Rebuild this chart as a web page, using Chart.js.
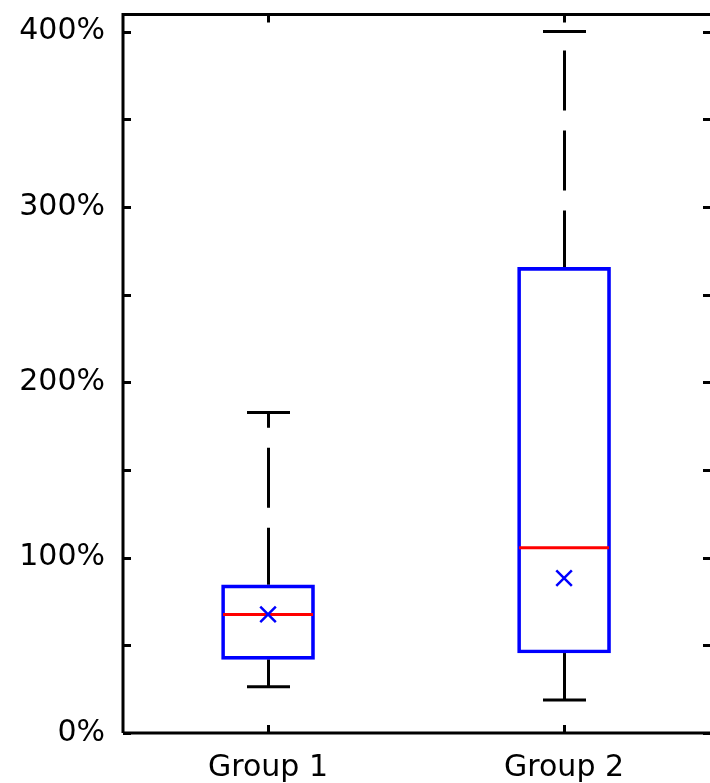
<!DOCTYPE html>
<html><head><meta charset="utf-8">
<script src="https://cdn.jsdelivr.net/npm/chart.js@4/dist/chart.umd.min.js"></script>
<style>html,body{margin:0;padding:0;background:#fff;overflow:hidden;} #wrap{width:710px;height:783px;}</style>
</head><body><div id="wrap"><canvas id="c" width="710" height="783"></canvas></div>
<script>
// ---- data ----
const categories = ['Group 1', 'Group 2'];
const positions = [1, 2];
const whiskerLow = [26.4, 18.8];
const q1 = [42, 45.6];
const median = [67.6, 105.6];
const q3 = [84.5, 265.5];
const whiskerHigh = [182.7, 400];
const mean = [67.6, 88.3];
const yTickValues = [0, 50, 100, 150, 200, 250, 300, 350, 400];
const yTickLabels = ['0%', '', '100%', '', '200%', '', '300%', '', '400%'];

const FONT = { family: 'DejaVu Sans', size: 30 };

const boxPlugin = {
  id: 'boxExtras',
  beforeDatasetsDraw(chart) {
    const ctx = chart.ctx, xs = chart.scales.x, ys = chart.scales.y;
    ctx.save();
    ctx.strokeStyle = '#000';
    ctx.lineWidth = 3;
    ctx.lineCap = 'butt';
    positions.forEach((p, i) => {
      const x = Math.round(xs.getPixelForValue(p)) + 0.5;
      ctx.setLineDash([60, 20]);
      ctx.lineDashOffset = 3;
      ctx.beginPath();
      ctx.moveTo(x, ys.getPixelForValue(q3[i]));
      ctx.lineTo(x, ys.getPixelForValue(whiskerHigh[i]));
      ctx.stroke();
      ctx.beginPath();
      ctx.moveTo(x, ys.getPixelForValue(q1[i]));
      ctx.lineTo(x, ys.getPixelForValue(whiskerLow[i]));
      ctx.stroke();
      ctx.setLineDash([]);
      ctx.beginPath();
      const yh = ys.getPixelForValue(whiskerHigh[i]);
      const yl = ys.getPixelForValue(whiskerLow[i]);
      ctx.moveTo(x - 21.5, yh); ctx.lineTo(x + 21.5, yh);
      ctx.moveTo(x - 21.5, yl); ctx.lineTo(x + 21.5, yl);
      ctx.stroke();
    });
    ctx.restore();
  },
  afterDatasetDraw(chart, args) {
    if (args.index !== 1) return;
    const ctx = chart.ctx, xs = chart.scales.x, ys = chart.scales.y;
    ctx.save();
    ctx.strokeStyle = '#ff0000';
    ctx.lineWidth = 3;
    positions.forEach((p, i) => {
      const x = xs.getPixelForValue(p);
      const y = ys.getPixelForValue(median[i]);
      ctx.beginPath();
      ctx.moveTo(x - 45, y); ctx.lineTo(x + 45, y);
      ctx.stroke();
    });
    ctx.restore();
  },
  afterDraw(chart) {
    const ctx = chart.ctx, a = chart.chartArea, xs = chart.scales.x, ys = chart.scales.y;
    ctx.save();
    ctx.strokeStyle = '#000';
    ctx.lineWidth = 3;
    ctx.setLineDash([]);
    const L = a.left, R = a.right + 1.5, T = a.top + 0.5, B = a.bottom;
    ctx.beginPath();
    ctx.moveTo(L, B); ctx.lineTo(L, T); ctx.lineTo(R, T); ctx.lineTo(R, B); ctx.lineTo(L, B);
    ctx.stroke();
    ctx.beginPath();
    yTickValues.forEach(v => {
      const y = Math.round(ys.getPixelForValue(v)) + 0.5;
      ctx.moveTo(L, y); ctx.lineTo(L + 8, y);
      ctx.moveTo(a.right - 7, y); ctx.lineTo(a.right + 2, y);
    });
    positions.forEach(p => {
      const x = Math.round(xs.getPixelForValue(p)) + 0.5;
      ctx.moveTo(x, T); ctx.lineTo(x, T + 8);
      ctx.moveTo(x, B); ctx.lineTo(x, B - 8);
    });
    ctx.stroke();
    ctx.restore();
  }
};

new Chart(document.getElementById('c'), {
  type: 'bar',
  data: {
    datasets: [
      {
        type: 'scatter',
        data: positions.map((p, i) => ({ x: p, y: mean[i] })),
        pointStyle: 'crossRot',
        radius: 11,
        borderColor: '#0000ff',
        borderWidth: 2.5,
        backgroundColor: '#0000ff'
      },
      {
        type: 'bar',
        data: positions.map((p, i) => ({ x: p, y: [q1[i], q3[i]] })),
        backgroundColor: 'rgba(0,0,0,0)',
        borderColor: '#0000ff',
        borderWidth: 3,
        borderSkipped: false,
        barThickness: 93,
        grouped: false
      }
    ]
  },
  options: {
    responsive: false,
    animation: false,
    devicePixelRatio: 1,
    layout: { autoPadding: false, padding: { top: 14, right: 0, left: 0, bottom: 0 } },
    plugins: { legend: { display: false }, tooltip: { enabled: false } },
    scales: {
      x: {
        type: 'linear',
        offset: false,
        min: 0.51,
        max: 2.493,
        grid: { display: false, drawTicks: false, offset: false },
        border: { display: false },
        afterBuildTicks: s => { s.ticks = positions.map(v => ({ value: v })); },
        afterFit: s => { s.height = 50; s.paddingLeft = 0; s.paddingRight = 0; },
        ticks: {
          autoSkip: false, maxRotation: 0, minRotation: 0,
          color: '#000', font: FONT, padding: 17,
          callback: (v, i) => categories[i]
        }
      },
      y: {
        type: 'linear',
        min: 0,
        max: 410,
        grid: { display: false, drawTicks: false },
        border: { display: false },
        afterBuildTicks: s => { s.ticks = yTickValues.map(v => ({ value: v })); },
        afterFit: s => { s.width = 123; s.paddingTop = 0; s.paddingBottom = 0; },
        ticks: {
          autoSkip: false, color: '#000', font: FONT, padding: 18,
          callback: (v, i) => yTickLabels[i]
        }
      }
    }
  },
  plugins: [boxPlugin]
});
</script>
</body></html>
